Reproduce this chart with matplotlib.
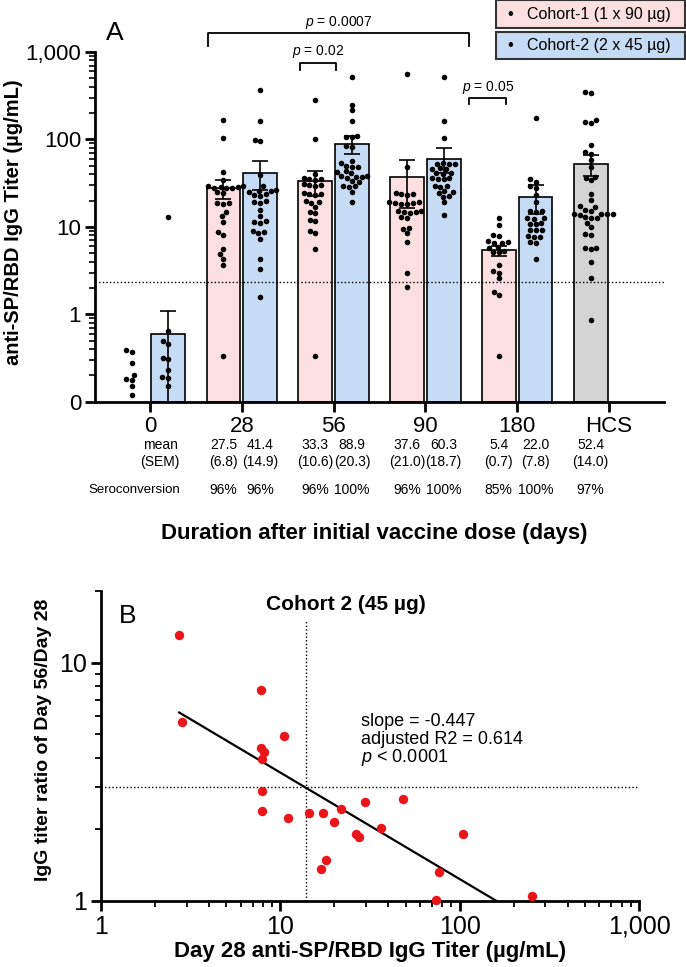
import numpy as np
import matplotlib.pyplot as plt
from matplotlib.patches import Rectangle
from matplotlib.ticker import FixedLocator, LogLocator, NullFormatter
import matplotlib.transforms as mtransforms

plt.rcParams['font.family'] = ['Liberation Sans', 'DejaVu Sans']
plt.rcParams['mathtext.fontset'] = 'custom'
plt.rcParams['mathtext.rm'] = 'Liberation Sans'
plt.rcParams['mathtext.it'] = 'Liberation Sans:italic'
NARROW = ['Liberation Sans Narrow', 'Liberation Sans', 'DejaVu Sans']

# ---------------- Panel A data ----------------
days = ['0', '28', '56', '90', '180', 'HCS']

c1_d0 = [0.39, 0.37, 0.28, 0.20, 0.18, 0.175, 0.15, 0.12]
c1_d28 = [165, 104, 42.5, 34.7, 29.5, 29.0, 28.6, 28.3, 28.0, 27.8, 27.5, 24.8, 24.2,
          18.8, 18.5, 18.2, 14.9, 13.2, 11.4, 8.7, 8.0, 5.6, 4.9, 4.3, 3.7, 0.33]
c1_d56 = [280, 101, 40.7, 36, 35.5, 35, 34.5, 31, 30.5, 30, 29.5, 24.5, 24, 23.5, 23,
          19.5, 19, 18.8, 16.9, 14.8, 14.3, 12.1, 11.7, 8.9, 8.6, 5.65, 0.33]
c1_d90 = [565, 49, 24.5, 24, 23.5, 23, 19.2, 19, 18.8, 18.6, 18.4, 18.2, 15.2, 15,
          14.9, 14.7, 14.5, 13, 12.7, 9.8, 9.4, 8.5, 6.7, 2.93, 2.06]
c1_d180 = [12.6, 10.4, 8.1, 7.9, 6.8, 6.7, 6.6, 6.5, 5.9, 5.8, 5.3, 5.2, 5.1, 3.65,
           3.1, 3.0, 2.57, 1.81, 1.66, 0.33]

c2_d0 = [12.9, 0.65, 0.49, 0.46, 0.32, 0.31, 0.23, 0.19, 0.185, 0.15]
c2_d28 = [365, 162, 99, 96, 39, 29, 26.5, 26, 25.5, 25, 23.5, 23, 22.5, 19.5, 19, 18.5,
          15.5, 13.2, 11.8, 11.5, 11.2, 9.0, 8.8, 8.4, 7.3, 4.3, 3.3, 1.58]
c2_d56 = [518, 250, 215, 162, 110, 108, 106, 84, 82, 56, 54, 50, 49, 48, 43, 42, 41,
          38.5, 38, 37.5, 37, 36.5, 33.5, 32.5, 29.5, 29, 28.5, 25, 19]
c2_d90 = [518, 162, 104, 54, 53, 52.5, 52, 46.5, 46, 45.5, 41.5, 41, 40.5, 36.5, 36,
          35.5, 35, 29.5, 29, 28.5, 25.5, 25, 24.5, 22.5, 22, 19, 13.5]
c2_d180 = [178, 35, 33, 29, 28, 23, 19, 15.2, 15, 14.8, 12.7, 12.5, 12.3, 11.1, 10.9,
           10.7, 9.3, 9.2, 9.1, 7.8, 7.7, 7.6, 6.7, 6.6, 4.3]

hcs_vals = [350, 340, 165, 158, 156, 86, 71, 69, 58, 48.5, 37.5, 36.5, 34, 24, 20.5,
            17.2, 16.8, 15.7, 15.3, 14.2, 14.1, 14, 13.9, 13.8, 12.8, 12.7, 12.6, 11.1,
            10, 8.2, 8.0, 5.8, 5.7, 5.6, 4.0, 2.6, 0.85]

c1_groups = [c1_d0, c1_d28, c1_d56, c1_d90, c1_d180]
c2_groups = [c2_d0, c2_d28, c2_d56, c2_d90, c2_d180]

mean_c1 = [np.nan, 27.5, 33.3, 37.6, 5.4]
sem_c1 = [np.nan, 6.8, 10.6, 21.0, 0.7]
mean_c2 = [0.6, 41.4, 88.9, 60.3, 22.0]
sem_c2 = [0.5, 14.9, 20.3, 18.7, 7.8]
hcs_mean = 52.4
hcs_sem = 14.0

sero_c1 = ['96%', '96%', '96%', '85%']
sero_c2 = ['96%', '100%', '100%', '100%']
sero_hcs = '97%'
threshold = 2.35

# (x0, x1, label) for the significance brackets
brackets = [(0.63, 3.48, '0.0007'), (1.63, 2.03, '0.02'), (3.48, 3.88, '0.05')]

# ---------------- Panel B data ----------------
b_x = [2.73, 2.82, 7.79, 10.5, 7.79, 8.15, 7.87, 7.87, 7.87, 11.1, 14.5, 17.2, 21.9,
       29.5, 48.1, 20.0, 36.4, 26.5, 27.3, 104.6, 18.0, 16.8, 77.0, 74.0, 253]
b_y = [13.1, 5.66, 7.69, 4.93, 4.38, 4.24, 3.94, 2.89, 2.38, 2.22, 2.33, 2.35, 2.43,
       2.60, 2.68, 2.15, 2.02, 1.91, 1.85, 1.91, 1.48, 1.36, 1.32, 1.01, 1.05]
b_slope = -0.447
b_logint = 0.986
b_xcut = 13.9
b_ycut = 3.0

W, H = 686, 967
fig = plt.figure(figsize=(W / 100, H / 100), dpi=100)

# ================= Panel A =================
a_l, a_r, a_t, a_b = 95, 664, 52, 401.7
axA = fig.add_axes([a_l / W, 1 - a_b / H, (a_r - a_l) / W, (a_b - a_t) / H])
axA.set_yscale('log')
axA.set_ylim(0.1, 1000)
axA.set_xlim(-0.6, 5.6)

px_dec = (a_b - a_t) / 4.0
px_unit = (a_r - a_l) / 6.2


def swarm(vals, d=5.6, step=0.5):
    y = np.log10(vals) * px_dec
    xs = np.zeros(len(vals))
    px, py = [], []
    cands = sorted(np.arange(-40, 40.01, step), key=abs)
    for i in np.argsort(y):
        for c in cands:
            if all((c - a) ** 2 + (y[i] - b) ** 2 >= d * d for a, b in zip(px, py)):
                break
        xs[i] = c
        px.append(c)
        py.append(y[i])
    return xs / px_unit


pink = '#fcdfe0'
blue = '#c6dcf5'
grey = '#d4d4d4'
off = 0.2
bw = 0.37
x = np.arange(5)
dot_s = 16

m1 = np.array(mean_c1)
m2 = np.array(mean_c2)
ok1 = ~np.isnan(m1)
axA.bar(x[ok1] - off, m1[ok1] - 0.1, bottom=0.1, width=bw, color=pink,
        edgecolor='black', linewidth=1.2, zorder=1)
axA.bar(x + off, m2 - 0.1, bottom=0.1, width=bw, color=blue,
        edgecolor='black', linewidth=1.2, zorder=1)
axA.bar([5 - off], [hcs_mean - 0.1], bottom=0.1, width=bw, color=grey,
        edgecolor='black', linewidth=1.2, zorder=1)

for i in range(5):
    v = np.array(c1_groups[i])
    axA.scatter(x[i] - off + swarm(v), v, s=dot_s, color='black', zorder=3, linewidths=0)
    v = np.array(c2_groups[i])
    axA.scatter(x[i] + off + swarm(v), v, s=dot_s, color='black', zorder=3, linewidths=0)
v = np.array(hcs_vals)
axA.scatter(5 - off + swarm(v), v, s=dot_s, color='black', zorder=3, linewidths=0)

eb = dict(fmt='none', ecolor='black', elinewidth=1.2, capsize=6, capthick=1.2, zorder=4)
axA.errorbar(x[ok1] - off, m1[ok1], yerr=np.array(sem_c1)[ok1], **eb)
axA.errorbar(x + off, m2, yerr=sem_c2, **eb)
axA.errorbar([5 - off], [hcs_mean], yerr=[hcs_sem], **eb)

axA.axhline(threshold, color='black', linestyle=(0, (1, 1.6)), linewidth=1.0, zorder=2)

for sp in ['top', 'right']:
    axA.spines[sp].set_visible(False)
for sp in ['left', 'bottom']:
    axA.spines[sp].set_linewidth(2)

axA.yaxis.set_major_locator(FixedLocator([0.1, 1, 10, 100, 1000]))
axA.set_yticklabels(['0', '1', '10', '100', '1,000'])
axA.yaxis.set_minor_locator(LogLocator(base=10, subs=np.arange(2, 10), numticks=20))
axA.yaxis.set_minor_formatter(NullFormatter())
axA.set_xticks(range(6))
axA.set_xticklabels(days)
axA.tick_params(axis='both', which='major', length=7, width=2, labelsize=16, pad=3)
axA.tick_params(axis='y', which='minor', length=4, width=1.2)

# bracket heights (value units above the axis), drawn outside the clip box
br_y = [(1636, 1161, 2185), (741, 617, 1019), (296, 252, 395)]
for (x0, x1, lab), (yh, yt, ytx) in zip(brackets, br_y):
    axA.plot([x0, x0, x1, x1], [yt, yh, yh, yt], color='black', lw=1.3, clip_on=False)
    axA.text((x0 + x1) / 2, ytx, '$p$ = ' + lab, ha='center', va='center', fontsize=10)

fig.text(115 / W, 1 - 33 / H, 'A', fontsize=19, ha='center', va='center')
fig.text(14 / W, 1 - 222 / H, 'anti-SP/RBD IgG Titer (µg/mL)', rotation=90,
         fontsize=14.5, fontweight='bold', ha='center', va='center')

# legend boxes
for (y0, y1), col, lab in [((0, 28), pink, 'Cohort-1 (1 x 90 µg)'),
                           ((32, 59), blue, 'Cohort-2 (2 x 45 µg)')]:
    fig.add_artist(Rectangle((496 / W, 1 - y1 / H), (685 - 496) / W, (y1 - y0) / H,
                             transform=fig.transFigure, facecolor=col,
                             edgecolor='#333333', linewidth=1.5))
    fig.text(510 / W, 1 - (y0 + y1) / 2 / H, '•', fontsize=12, ha='center', va='center')
    fig.text(527 / W, 1 - (y0 + y1) / 2 / H, lab, fontsize=11.5, ha='left', va='center')

# summary table under panel A
tr = mtransforms.blended_transform_factory(axA.transData, fig.transFigure)
y_mean, y_sem, y_sero = 1 - 445 / H, 1 - 462 / H, 1 - 490 / H
fs_t = 10
fig.text(160 / W, y_mean, 'mean', fontsize=fs_t, family=NARROW, ha='center', va='center')
fig.text(160 / W, y_sem, '(SEM)', fontsize=fs_t, family=NARROW, ha='center', va='center')
fig.text(134 / W, y_sero, 'Seroconversion', fontsize=9.5, family=NARROW,
         ha='center', va='center')
for i in range(1, 5):
    for xi, m, s in [(i - off, mean_c1[i], sem_c1[i]), (i + off, mean_c2[i], sem_c2[i])]:
        axA.text(xi, y_mean, f'{m:.1f}', transform=tr, fontsize=fs_t, family=NARROW,
                 ha='center', va='center')
        axA.text(xi, y_sem, f'({s:.1f})', transform=tr, fontsize=fs_t, family=NARROW,
                 ha='center', va='center')
    axA.text(i - off, y_sero, sero_c1[i - 1], transform=tr, fontsize=fs_t, family=NARROW,
             ha='center', va='center')
    axA.text(i + off, y_sero, sero_c2[i - 1], transform=tr, fontsize=fs_t, family=NARROW,
             ha='center', va='center')
axA.text(5 - off, y_mean, f'{hcs_mean:.1f}', transform=tr, fontsize=fs_t, family=NARROW,
         ha='center', va='center')
axA.text(5 - off, y_sem, f'({hcs_sem:.1f})', transform=tr, fontsize=fs_t, family=NARROW,
         ha='center', va='center')
axA.text(5 - off, y_sero, sero_hcs, transform=tr, fontsize=fs_t, family=NARROW,
         ha='center', va='center')
fig.text(374 / W, 1 - 534 / H, 'Duration after initial vaccine dose (days)', fontsize=16,
         fontweight='bold', family=NARROW, ha='center', va='center')

# ================= Panel B =================
b_l, b_r, b_t, b_b = 101, 639, 591, 901
axB = fig.add_axes([b_l / W, 1 - b_b / H, (b_r - b_l) / W, (b_b - b_t) / H])
axB.set_xscale('log')
axB.set_yscale('log')
axB.set_xlim(1, 1000)
axB.set_ylim(1, 20)

axB.axhline(b_ycut, color='black', linestyle=(0, (1, 1.6)), linewidth=1.0)
axB.plot([b_xcut, b_xcut], [1, 15], color='black', linestyle=(0, (1, 1.6)), linewidth=1.0)

xf = np.array([min(b_x), 10 ** (b_logint / -b_slope)])
axB.plot(xf, 10 ** (b_logint + b_slope * np.log10(xf)), color='black', lw=1.6, zorder=2)
axB.scatter(b_x, b_y, s=46, color='#e8161b', zorder=3, linewidths=0, clip_on=False)

for sp in ['top', 'right']:
    axB.spines[sp].set_visible(False)
for sp in ['left', 'bottom']:
    axB.spines[sp].set_linewidth(2)
axB.xaxis.set_major_locator(FixedLocator([1, 10, 100, 1000]))
axB.set_xticklabels(['1', '10', '100', '1,000'])
axB.xaxis.set_minor_locator(LogLocator(base=10, subs=np.arange(2, 10), numticks=20))
axB.xaxis.set_minor_formatter(NullFormatter())
axB.yaxis.set_major_locator(FixedLocator([1, 10]))
axB.set_yticklabels(['1', '10'])
axB.yaxis.set_minor_locator(LogLocator(base=10, subs=np.arange(2, 10), numticks=20))
axB.yaxis.set_minor_formatter(NullFormatter())
axB.tick_params(axis='both', which='major', length=7, width=2, labelsize=18, pad=3)
axB.tick_params(axis='both', which='minor', length=4, width=1.3)
for lab in axB.get_xticklabels() + axB.get_yticklabels():
    lab.set_family(NARROW)

fig.text(128 / W, 1 - 616 / H, 'B', fontsize=19, ha='center', va='center')
fig.text(346 / W, 1 - 605 / H, 'Cohort 2 (45 µg)', fontsize=15, fontweight='bold',
         family=NARROW, ha='center', va='center')
fig.text(361 / W, 1 - 722 / H, 'slope = -0.447', fontsize=13, family=NARROW,
         ha='left', va='center')
fig.text(361 / W, 1 - 740 / H, 'adjusted R2 = 0.614', fontsize=13, family=NARROW,
         ha='left', va='center')
fig.text(361 / W, 1 - 758 / H, '$p$ < 0.0001', fontsize=13, family=NARROW,
         ha='left', va='center')
fig.text(44 / W, 1 - 740 / H, 'IgG titer ratio of Day 56/Day 28', rotation=90, fontsize=14,
         fontweight='bold', ha='center', va='center')
fig.text(370 / W, 1 - 952 / H, 'Day 28 anti-SP/RBD IgG Titer (µg/mL)', fontsize=16,
         fontweight='bold', family=NARROW, ha='center', va='center')

fig.savefig('out.png', dpi=100)
